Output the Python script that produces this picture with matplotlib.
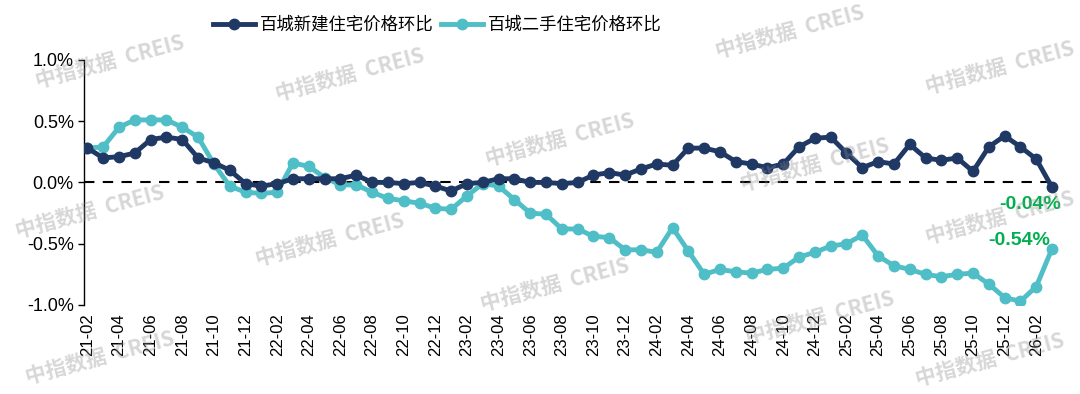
import matplotlib.pyplot as plt
import numpy as np

months = ['21-02', '21-03', '21-04', '21-05', '21-06', '21-07', '21-08', '21-09', '21-10', '21-11', '21-12',
          '22-01', '22-02', '22-03', '22-04', '22-05', '22-06', '22-07', '22-08', '22-09', '22-10', '22-11', '22-12',
          '23-01', '23-02', '23-03', '23-04', '23-05', '23-06', '23-07', '23-08', '23-09', '23-10', '23-11', '23-12',
          '24-01', '24-02', '24-03', '24-04', '24-05', '24-06', '24-07', '24-08', '24-09', '24-10', '24-11', '24-12',
          '25-01', '25-02', '25-03', '25-04', '25-05', '25-06', '25-07', '25-08', '25-09', '25-10', '25-11', '25-12',
          '26-01', '26-02', '26-03']

# 百城新建住宅价格环比 (%)
new_home = [0.28, 0.20, 0.21, 0.24, 0.35, 0.37, 0.35, 0.20, 0.16, 0.10, -0.01,
            -0.03, -0.01, 0.03, 0.03, 0.03, 0.03, 0.06, 0.00, 0.00, -0.01, 0.00, -0.03,
            -0.07, -0.01, 0.00, 0.03, 0.03, 0.00, 0.00, -0.01, 0.00, 0.06, 0.08, 0.06,
            0.11, 0.15, 0.14, 0.28, 0.28, 0.25, 0.17, 0.15, 0.12, 0.15, 0.29, 0.36,
            0.37, 0.24, 0.12, 0.17, 0.15, 0.31, 0.20, 0.18, 0.20, 0.09, 0.29, 0.38,
            0.29, 0.19, -0.04]

# 百城二手住宅价格环比 (%)
second_hand = [0.28, 0.29, 0.45, 0.51, 0.51, 0.51, 0.45, 0.37, 0.15, -0.03, -0.08,
               -0.09, -0.08, 0.16, 0.13, 0.04, -0.02, -0.02, -0.08, -0.13, -0.15, -0.17, -0.21,
               -0.22, -0.11, -0.01, -0.03, -0.14, -0.25, -0.26, -0.38, -0.38, -0.44, -0.45, -0.55,
               -0.55, -0.57, -0.37, -0.56, -0.75, -0.71, -0.73, -0.74, -0.71, -0.70, -0.61, -0.57,
               -0.52, -0.50, -0.43, -0.60, -0.68, -0.71, -0.75, -0.77, -0.75, -0.74, -0.83, -0.94,
               -0.97, -0.85, -0.54]

plt.rcParams['font.family'] = ['Liberation Sans', 'Noto Sans CJK SC', 'DejaVu Sans']

fig = plt.figure(figsize=(10.8, 3.94), dpi=100)
ax = fig.add_axes([0.078, 0.226, 0.902, 0.622])

x = np.arange(len(months))
ax.axhline(0, color='black', lw=1.5, ls=(0, (5, 4)), zorder=1)
ax.plot(x, new_home, color='#203864', lw=3.5, marker='o', ms=7.5, label='百城新建住宅价格环比', zorder=3)
ax.plot(x, second_hand, color='#4fbec7', lw=3.5, marker='o', ms=7.5, label='百城二手住宅价格环比', zorder=2)

ax.text(x[-1] - 1.4, -0.18, '-0.04%', color='#00b050', fontsize=14,
        fontweight='bold', ha='center', va='center')
ax.text(x[-1] - 2.1, -0.47, '-0.54%', color='#00b050', fontsize=14,
        fontweight='bold', ha='center', va='center')

ax.set_xlim(-0.2, len(months) - 0.6)
ax.set_ylim(-1.0, 1.0)
ax.set_yticks([-1.0, -0.5, 0.0, 0.5, 1.0])
ax.set_yticklabels(['-1.0%', '-0.5%', '0.0%', '0.5%', '1.0%'], fontsize=13)
ax.set_xticks(x[::2])
ax.set_xticklabels(months[::2], rotation=90, fontsize=12)
ax.tick_params(axis='x', length=0, pad=6)
ax.tick_params(axis='y', length=4, width=1)
for s in ['top', 'right', 'bottom']:
    ax.spines[s].set_visible(False)
ax.spines['left'].set_linewidth(1)
ax.patch.set_alpha(0)

fig.legend(loc='upper center', bbox_to_anchor=(0.405, 1.0), ncol=2, frameon=False,
           prop={'family': ['Noto Sans CJK SC'], 'size': 12.5}, handlelength=2.4,
           columnspacing=0.4, handletextpad=0.3)

# watermarks, semi-transparent on top
marks = [(110, 62), (350, 75), (560, 140), (790, 32), (1000, 68), (90, 212),
         (555, 285), (815, 165), (1000, 218), (100, 358), (820, 318), (990, 360), (330, 240)]
for mx, my in marks:
    fig.text(mx / 1080, 1 - my / 394, '中指数据  CREIS', fontsize=15, fontweight='bold',
             color='#8c8c8c', alpha=0.35, rotation=15, ha='center', va='center', zorder=10,
             family=['Noto Sans CJK SC', 'DejaVu Sans'])

plt.savefig('out.png', dpi=100)
